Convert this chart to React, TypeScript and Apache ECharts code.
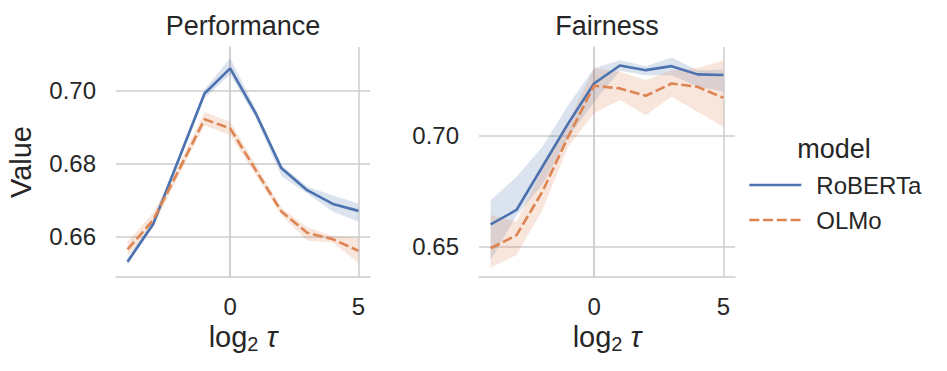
import React, { useEffect, useRef } from "react";
import * as echarts from "echarts";

const xs = [-4, -3, -2, -1, 0, 1, 2, 3, 4, 5];
const xTicks = [0, 5];
const perfYTicks = [0.66, 0.68, 0.7];
const fairYTicks = [0.65, 0.7];

const perfRoberta = [0.653, 0.6634, 0.6813, 0.6993, 0.7062, 0.6938, 0.6787, 0.6727, 0.6689, 0.667];
const perfRobertaLo = [0.6522, 0.6626, 0.6803, 0.698, 0.7045, 0.6925, 0.6765, 0.6718, 0.6668, 0.664];
const perfRobertaHi = [0.654, 0.6642, 0.6823, 0.7005, 0.709, 0.695, 0.6796, 0.6737, 0.6712, 0.669];

const perfOlmo = [0.6564, 0.6645, 0.6782, 0.6922, 0.6897, 0.6782, 0.6668, 0.661, 0.6592, 0.656];
const perfOlmoLo = [0.6545, 0.6625, 0.6768, 0.6905, 0.6878, 0.6768, 0.6658, 0.6588, 0.6583, 0.6527];
const perfOlmoHi = [0.6585, 0.6665, 0.6797, 0.6942, 0.6915, 0.6797, 0.6678, 0.6625, 0.66, 0.6597];

const fairRoberta = [0.66, 0.6665, 0.6859, 0.7054, 0.7233, 0.7314, 0.7293, 0.7311, 0.7274, 0.7271];
const fairRobertaLo = [0.644, 0.664, 0.678, 0.699, 0.715, 0.729, 0.727, 0.727, 0.722, 0.7196];
const fairRobertaHi = [0.6709, 0.6814, 0.6949, 0.7136, 0.7301, 0.7338, 0.7311, 0.735, 0.7293, 0.7295];

const fairOlmo = [0.6493, 0.6552, 0.6747, 0.6994, 0.7223, 0.7211, 0.7178, 0.7233, 0.7218, 0.7169];
const fairOlmoLo = [0.6405, 0.6463, 0.6665, 0.695, 0.7099, 0.7159, 0.7091, 0.7174, 0.7106, 0.7039];
const fairOlmoHi = [0.6642, 0.6612, 0.685, 0.706, 0.7301, 0.7286, 0.7248, 0.7293, 0.7301, 0.7338];

const BLUE = "#4c72b0";
const ORANGE = "#dd8452";
const GRID = "#cccccc";
const TEXT = "#262626";
const FONT = "'Liberation Sans', Arial, sans-serif";

function band(key: string, lo: number[], hi: number[], color: string, idx: number) {
  return {
    type: "custom",
    name: key,
    xAxisIndex: idx,
    yAxisIndex: idx,
    silent: true,
    z: 2,
    clip: true,
    encode: { x: 0, y: [1, 2] },
    data: xs.map((x, i) => [x, lo[i], hi[i]]),
    renderItem: (params: any, api: any) => {
      if (params.dataIndex !== 0) return null;
      const upper = xs.map((x, i) => api.coord([x, hi[i]]));
      const lower = xs.map((x, i) => api.coord([x, lo[i]])).reverse();
      return {
        type: "polygon",
        shape: { points: [...upper, ...lower] },
        style: { fill: color, opacity: 0.2, stroke: "none" },
      };
    },
  };
}

function mainLine(name: string, vals: number[], color: string, dashed: boolean, idx: number) {
  return {
    type: "line",
    name,
    xAxisIndex: idx,
    yAxisIndex: idx,
    data: xs.map((x, i) => [x, vals[i]]),
    symbol: "none",
    showSymbol: false,
    color,
    lineStyle: { color, width: 2.6, type: dashed ? [10, 3.75] : "solid" },
    z: 4,
  };
}

function gridLines(idx: number, yTicks: number[]) {
  return {
    type: "line",
    name: "grid" + idx,
    xAxisIndex: idx,
    yAxisIndex: idx,
    data: [],
    silent: true,
    z: 1,
    markLine: {
      silent: true,
      symbol: "none",
      z: 1,
      label: { show: false },
      lineStyle: { color: GRID, width: 1.5, type: "solid" },
      data: [
        ...xTicks.map((v) => ({ xAxis: v })),
        ...yTicks.map((v) => ({ yAxis: v })),
      ],
    },
  };
}

function xAxis(idx: number) {
  return {
    type: "value",
    gridIndex: idx,
    min: -4.45,
    max: 5.45,
    axisLine: { show: true, onZero: false, lineStyle: { color: GRID, width: 1.5 } },
    axisTick: { show: false },
    splitLine: { show: false },
    axisLabel: {
      customValues: xTicks,
      color: TEXT,
      fontSize: 24,
      fontFamily: FONT,
      margin: 17,
    },
    name: "{a|log}{b|2}{c| τ}",
    nameLocation: "middle",
    nameGap: 43,
    nameTextStyle: {
      color: TEXT,
      fontFamily: FONT,
      rich: {
        a: { fontSize: 29, lineHeight: 34, color: TEXT, fontFamily: FONT },
        b: { fontSize: 20, lineHeight: 16, verticalAlign: "bottom", color: TEXT, fontFamily: FONT },
        c: { fontSize: 29, lineHeight: 34, fontStyle: "italic", color: TEXT, fontFamily: FONT },
      },
    },
  };
}

function yAxis(idx: number, min: number, max: number, ticks: number[], withName: boolean) {
  return {
    type: "value",
    gridIndex: idx,
    min,
    max,
    axisLine: { show: true, lineStyle: { color: GRID, width: 1.5 } },
    axisTick: { show: false },
    splitLine: { show: false },
    axisLabel: {
      customValues: ticks,
      color: TEXT,
      fontSize: 24,
      fontFamily: FONT,
      margin: 20,
      formatter: (v: number) => v.toFixed(2),
    },
    name: withName ? "Value" : "",
    nameLocation: "middle",
    nameRotate: 90,
    nameGap: 81,
    nameTextStyle: { color: TEXT, fontSize: 29, fontFamily: FONT },
  };
}

export default function App() {
  const ref = useRef<HTMLDivElement>(null);
  useEffect(() => {
    const chart = echarts.init(ref.current!, null, { renderer: "svg" });
    const option: any = {
      animation: false,
      backgroundColor: "#ffffff",
      textStyle: { fontFamily: FONT },
      grid: [
        { left: 116, top: 47, width: 254, height: 230 },
        { left: 479, top: 47, width: 256, height: 230 },
      ],
      xAxis: [xAxis(0), xAxis(1)],
      yAxis: [
        yAxis(0, 0.6488, 0.7121, perfYTicks, true),
        yAxis(1, 0.6364, 0.7397, fairYTicks, false),
      ],
      legend: {
        orient: "vertical",
        left: 743,
        top: 168,
        itemWidth: 52,
        itemHeight: 14,
        itemGap: 11,
        data: ["RoBERTa", "OLMo"],
        itemStyle: { opacity: 0 },
        lineStyle: { width: 2.6 },
        textStyle: { color: TEXT, fontSize: 24, fontFamily: FONT, lineHeight: 24, padding: [0, 0, 0, 10] },
        selectedMode: false,
      },
      graphic: [
        { type: "text", x: 243, y: 26, style: { text: "Performance", textAlign: "center", textVerticalAlign: "middle", fontSize: 27, fill: TEXT, fontFamily: FONT } },
        { type: "text", x: 607, y: 26, style: { text: "Fairness", textAlign: "center", textVerticalAlign: "middle", fontSize: 27, fill: TEXT, fontFamily: FONT } },
        { type: "text", x: 834, y: 149, style: { text: "model", textAlign: "center", textVerticalAlign: "middle", fontSize: 27, fill: TEXT, fontFamily: FONT } },
      ],
      series: [
        gridLines(0, perfYTicks),
        gridLines(1, fairYTicks),
        band("pr", perfRobertaLo, perfRobertaHi, BLUE, 0),
        band("po", perfOlmoLo, perfOlmoHi, ORANGE, 0),
        band("fr", fairRobertaLo, fairRobertaHi, BLUE, 1),
        band("fo", fairOlmoLo, fairOlmoHi, ORANGE, 1),
        mainLine("RoBERTa", perfRoberta, BLUE, false, 0),
        mainLine("OLMo", perfOlmo, ORANGE, true, 0),
        mainLine("RoBERTa", fairRoberta, BLUE, false, 1),
        mainLine("OLMo", fairOlmo, ORANGE, true, 1),
      ],
    };
    chart.setOption(option);
    return () => chart.dispose();
  }, []);
  return (
    <div
      ref={ref}
      style={{ position: "fixed", left: 0, top: 0, width: 947, height: 371, background: "#fff" }}
    />
  );
}
